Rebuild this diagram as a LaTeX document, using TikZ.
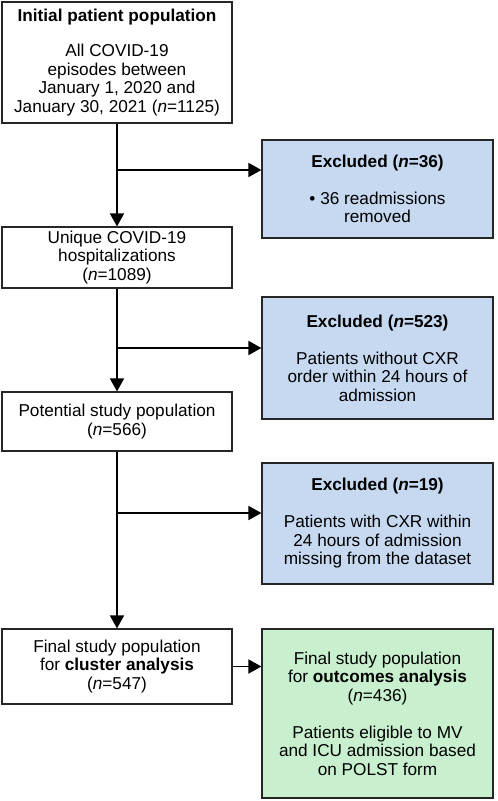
\documentclass[tikz,border=0pt]{standalone}
\usepackage{fontspec}
\setmainfont{Liberation Sans}
\usetikzlibrary{arrows.meta}
\usetikzlibrary{positioning}
\definecolor{exblue}{RGB}{198,217,241}
\definecolor{outgreen}{RGB}{200,240,206}
\newcommand{\nn}{\textit{n}}

\begin{document}
\begin{tikzpicture}[x=1pt,y=-1pt,
	box/.style={draw=black!85, line width=1.2pt, align=center, inner sep=0pt,
		font=\fontsize{17.2}{18.5}\selectfont},
	mainbox/.style={box, minimum width=230pt},
	exbox/.style={box, fill=exblue, minimum width=231pt},
	flow/.style={line width=1.8pt, -{Triangle[width=14pt,length=13pt]}}]
	\useasboundingbox (0,0) rectangle (498,801);
	% left column
	\node[mainbox, minimum height=121pt] (init) at (117,62.5)
		{\textbf{Initial patient population}\\[16.5pt]All COVID-19\\episodes between\\January 1, 2020 and\\January 30, 2021 (\nn=1125)};
	\node[mainbox, minimum height=61pt] (uniq) at (117,257.5)
		{Unique COVID-19\\hospitalizations\\(\nn=1089)};
	\node[mainbox, minimum height=59pt] (pot) at (117,421.5)
		{Potential study population\\(\nn=566)};
	\node[mainbox, minimum height=75pt] (final) at (117,666.5)
		{Final study population\\for \textbf{cluster analysis}\\(\nn=547)};
	% right column
	\node[exbox, minimum height=98pt] (ex1) at (377.5,189)
		{\textbf{Excluded (\nn=36)}\\[18.5pt]\textbullet\ 36 readmissions\\removed};
	\node[exbox, minimum height=122pt] (ex2) at (377.5,358)
		{\textbf{Excluded (\nn=523)}\\[18.5pt]Patients without CXR\\order within 24 hours of\\admission};
	\node[exbox, minimum height=121pt] (ex3) at (377.5,523.5)
		{\textbf{Excluded (\nn=19)}\\[18.5pt]Patients with CXR within\\24 hours of admission\\missing from the dataset};
	\node[box, fill=outgreen, minimum width=231pt, minimum height=169pt] (out) at (377.5,713.5)
		{Final study population\\for \textbf{outcomes analysis}\\(\nn=436)\\[18.5pt]Patients eligible to MV\\and ICU admission based\\on POLST form};
	% branch points
	\coordinate (b1) at (117,170);
	\coordinate (b2) at (117,348);
	\coordinate (b3) at (117,513);
	% arrows
	\draw[flow] (init) -- (uniq);
	\draw[flow] (uniq) -- (pot);
	\draw[flow] (pot) -- (final);
	\draw[flow] (b1) -- (b1 -| ex1.west);
	\draw[flow] (b2) -- (b2 -| ex2.west);
	\draw[flow] (b3) -- (b3 -| ex3.west);
	\draw[flow] (final.east) -- (final.east -| out.west);
\end{tikzpicture}
\end{document}
